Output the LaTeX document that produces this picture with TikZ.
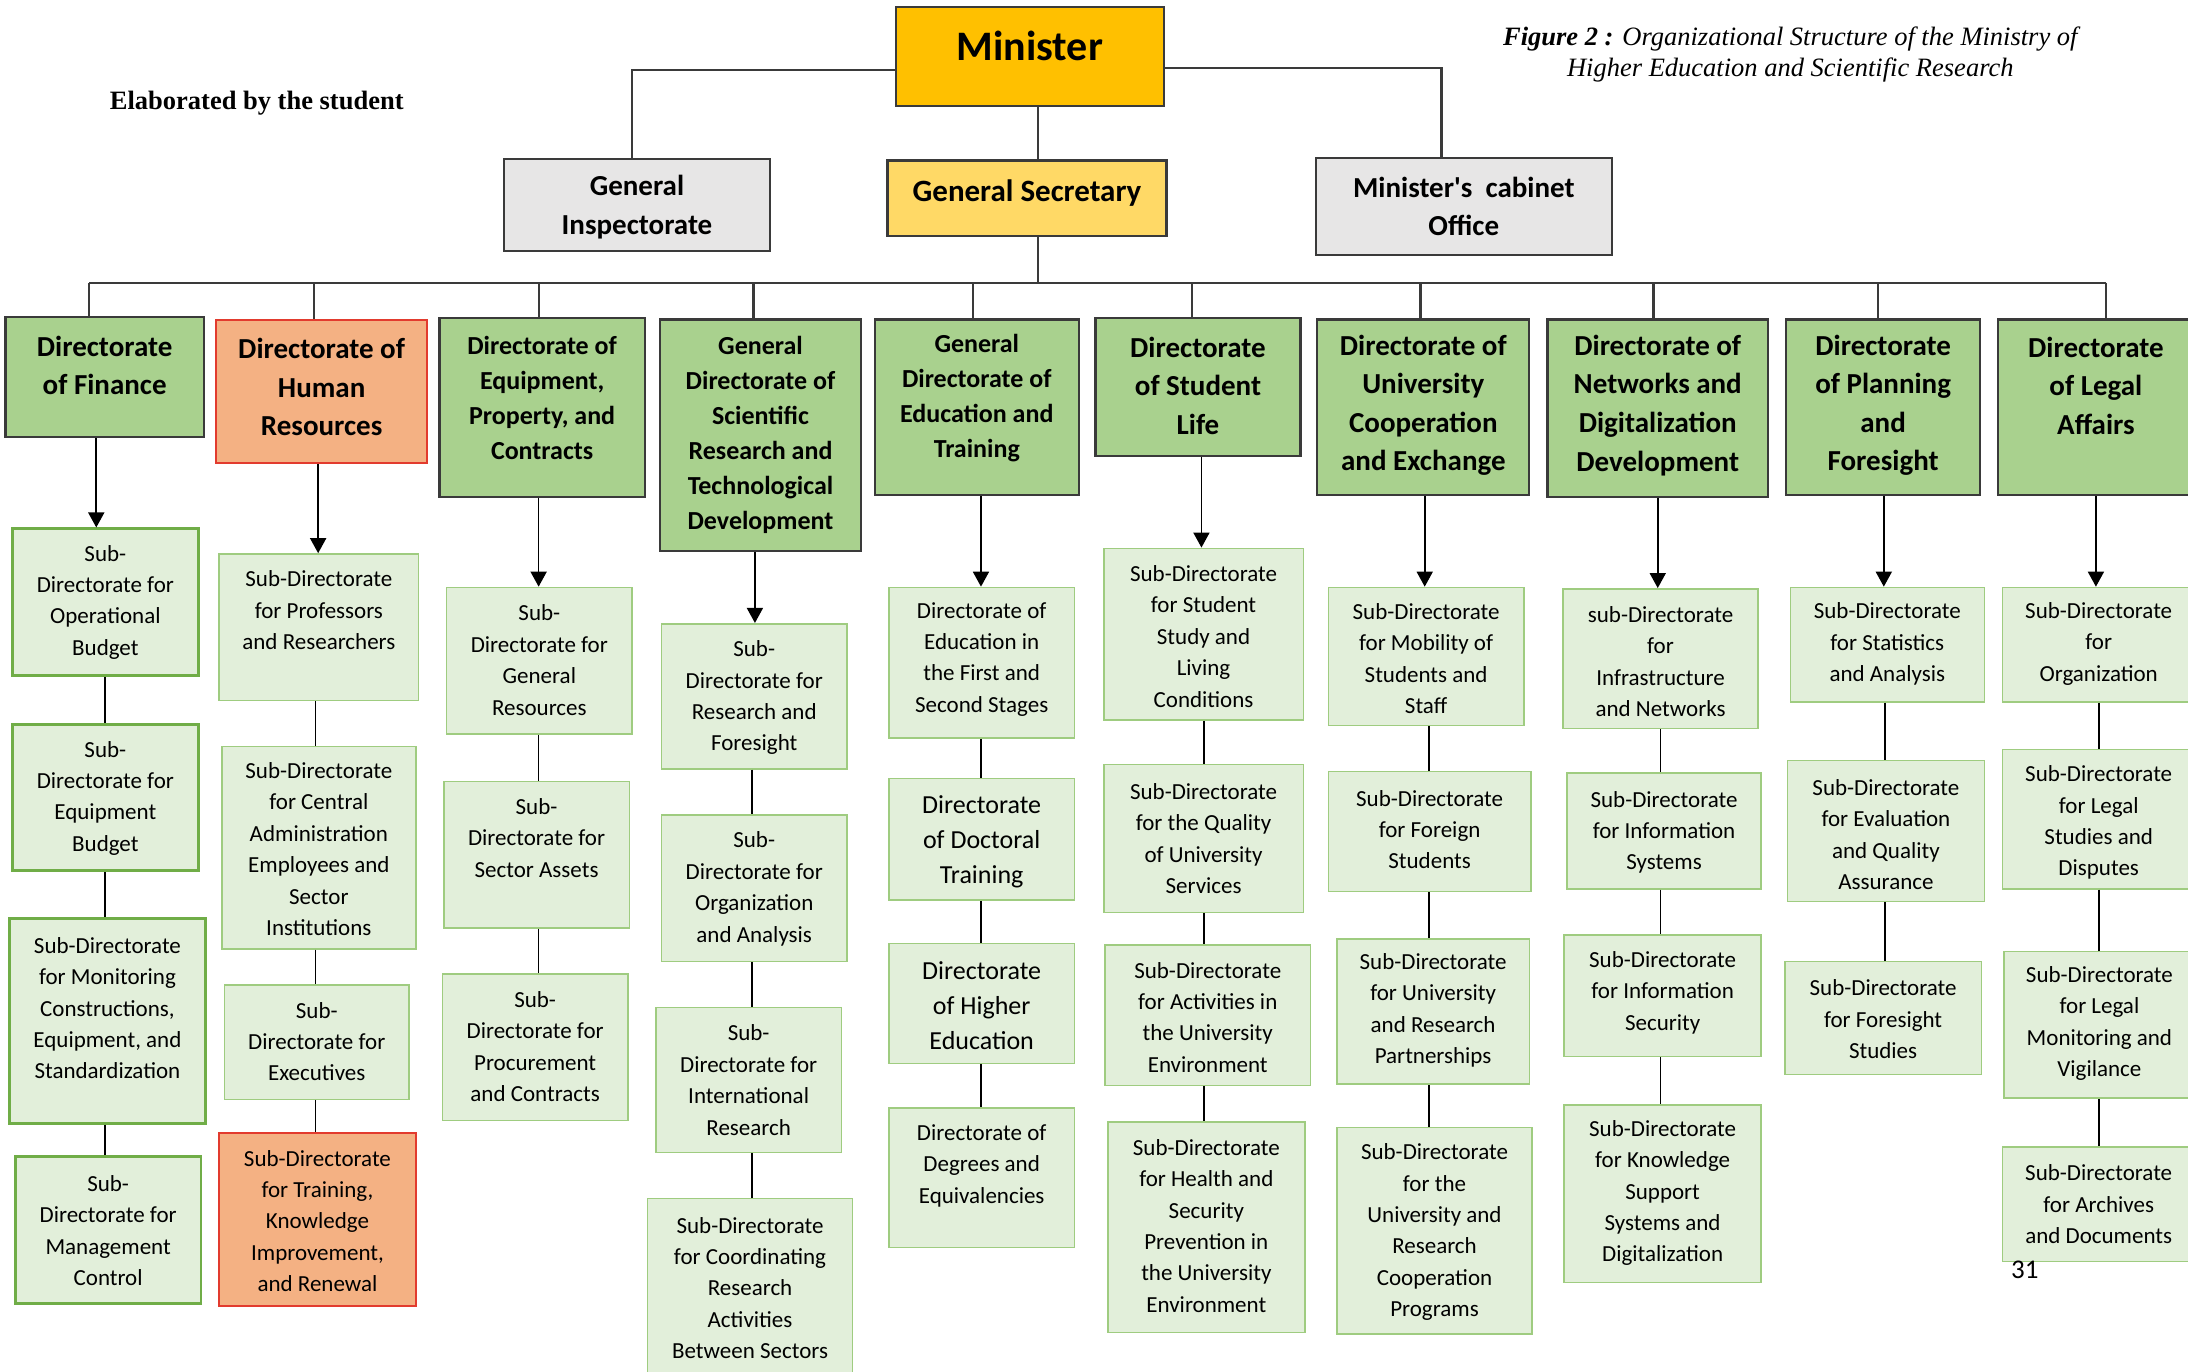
\documentclass[tikz,border=0pt]{standalone}
\usepackage{fontspec}
\setmainfont{Carlito}
\newfontfamily\cabfont{Carlito}
\newfontfamily\tnr{Liberation Serif}
\usetikzlibrary{arrows.meta,fit}
\definecolor{dirgreen}{HTML}{A9D18E}
\definecolor{subgreen}{HTML}{E2EFDA}
\definecolor{greenA}{HTML}{70AD47}
\definecolor{greenB}{HTML}{9FCC80}
\definecolor{hrsalmon}{HTML}{F4B183}
\definecolor{hrred}{HTML}{E23B2E}
\definecolor{grayfill}{HTML}{E7E6E6}
\definecolor{minfill}{HTML}{FFC000}
\definecolor{gsfill}{HTML}{FFD966}
\definecolor{darkline}{HTML}{3A3A3A}
\newcommand\bx[9]{\node[#2, inner sep=0pt, fit={(#3,#4) (#5,#6)}] (#1) {};
  \node[#7] (#1t) at ({(#3+#5)/2},#8) {#9};}
\tikzset{
  topbox/.style={draw=darkline, line width=2.2pt},
  dirbox/.style={draw=darkline, line width=2.2pt, fill=dirgreen},
  hrbox/.style={draw=hrred, line width=2pt, fill=hrsalmon},
  subA/.style={draw=greenA, line width=2.8pt, fill=subgreen},
  subB/.style={draw=greenB, line width=1.6pt, fill=subgreen},
  subR/.style={draw=hrred, line width=1.6pt, fill=hrsalmon},
  hdr/.style={font=\fontsize{29}{38.6}\selectfont\bfseries, align=center, inner sep=0pt},
  hdrs/.style={font=\fontsize{26}{35}\selectfont\bfseries, align=center, inner sep=0pt},
  subt/.style={font=\fontsize{23}{31.4}\selectfont, align=center, inner sep=0pt},
  subl/.style={font=\fontsize{26}{35}\selectfont, align=center, inner sep=0pt},
  topline/.style={draw=darkline, line width=2.2pt},
  link/.style={draw=black, line width=1.7pt},
  arr/.style={link, -{Triangle[width=16pt,length=15pt]}}
}
\begin{document}
\begin{tikzpicture}[x=1.3954pt,y=-1.3954pt]
\path[use as bounding box, fill=white] (0,0) rectangle (1568,983);

% top level
\bx{min}{topbox, fill=minfill}{642}{5}{834}{76}{font=\fontsize{42}{42}\selectfont\bfseries, inner sep=0pt}{33}{Minister}
\bx{gs}{topbox, fill=gsfill}{636}{115}{836}{169}{font=\fontsize{31}{31}\selectfont\bfseries, inner sep=0pt}{138}{General Secretary}
\bx{insp}{topbox, fill=grayfill}{361}{114}{552}{180}{hdr}{148.5}{General\\Inspectorate}
\bx{cab}{topbox, fill=grayfill}{943}{113}{1155}{183}{hdr}{148}{{\cabfont\bfseries Minister's~ cabinet}\\Office}

% directorates
\bx{d1}{dirbox}{4}{227}{146}{313}{hdr}{262}{Directorate\\of Finance}
\bx{d2}{hrbox}{155}{229}{306}{332}{hdr}{277.5}{Directorate of\\Human\\Resources}
\bx{d3}{dirbox}{315}{228}{462}{356}{hdrs}{285.5}{Directorate of\\Equipment,\\Property, and\\Contracts}
\bx{d4}{dirbox}{473}{229}{617}{395}{hdrs}{311.5}{General\\Directorate of\\Scientific\\Research and\\Technological\\Development}
\bx{d5}{dirbox}{627}{229}{773}{355}{hdrs}{285.5}{General\\Directorate of\\Education and\\Training}
\bx{d6}{dirbox}{785}{228}{932}{327}{hdr}{276.5}{Directorate\\of Student\\Life}
\bx{d7}{dirbox}{944}{229}{1096}{355}{hdr}{290.5}{Directorate of\\University\\Cooperation\\and Exchange}
\bx{d8}{dirbox}{1109}{229}{1267}{356}{hdr}{290.5}{Directorate of\\Networks and\\Digitalization\\Development}
\bx{d9}{dirbox}{1280}{229}{1419}{355}{hdr}{290.5}{Directorate\\of Planning\\and\\Foresight}
\bx{d10}{dirbox}{1432}{229}{1572}{355}{hdr}{276.5}{Directorate\\of Legal\\Affairs}

% column 1
\bx{s1a}{subA}{9}{379}{142}{484}{subt}{431.5}{Sub-\\Directorate for\\Operational\\Budget}
\bx{s1b}{subA}{9}{519}{142}{624}{subt}{572}{Sub-\\Directorate for\\Equipment\\Budget}
\bx{s1c}{subA}{7}{658}{147}{805}{subt}{722.5}{Sub-Directorate\\for Monitoring\\Constructions,\\Equipment, and\\Standardization}
\bx{s1d}{subA}{11}{829}{144}{934}{subt}{882}{Sub-\\Directorate for\\Management\\Control}
% column 2
\bx{s2a}{subB}{157}{397}{300}{502}{subt}{437.5}{Sub-Directorate\\for Professors\\and Researchers}
\bx{s2b}{subB}{159}{535}{298}{680}{subt}{608.5}{Sub-Directorate\\for Central\\Administration\\Employees and\\Sector\\Institutions}
\bx{s2c}{subB}{161}{706}{293}{788}{subt}{746.5}{Sub-\\Directorate for\\Executives}
\bx{s2d}{subR}{157}{812}{298}{936}{subt}{875}{Sub-Directorate\\for Training,\\Knowledge\\Improvement,\\and Renewal}
% column 3
\bx{s3a}{subB}{320}{421}{453}{526}{subt}{473}{Sub-\\Directorate for\\General\\Resources}
\bx{s3b}{subB}{318}{560}{451}{665}{subt}{600.5}{Sub-\\Directorate for\\Sector Assets}
\bx{s3c}{subB}{317}{698}{450}{803}{subt}{750}{Sub-\\Directorate for\\Procurement\\and Contracts}
% column 4
\bx{s4a}{subB}{474}{447}{607}{551}{subt}{500}{Sub-\\Directorate for\\Research and\\Foresight}
\bx{s4b}{subB}{474}{584}{607}{689}{subt}{637}{Sub-\\Directorate for\\Organization\\and Analysis}
\bx{s4c}{subB}{470}{722}{603}{826}{subt}{774}{Sub-\\Directorate for\\International\\Research}
\bx{s4d}{subB}{464}{859}{611}{995}{subt}{923}{Sub-Directorate\\for Coordinating\\Research\\Activities\\Between Sectors}
% column 5
\bx{s5a}{subB}{637}{421}{770}{529}{subt}{472.5}{Directorate of\\Education in\\the First and\\Second Stages}
\bx{s5b}{subB}{637}{558}{770}{645}{subl}{603}{Directorate\\of Doctoral\\Training}
\bx{s5c}{subB}{637}{676}{770}{762}{subl}{721}{Directorate\\of Higher\\Education}
\bx{s5d}{subB}{637}{794}{770}{894}{subt}{835.5}{Directorate of\\Degrees and\\Equivalencies}
% column 6
\bx{s6a}{subB}{791}{393}{934}{516}{subt}{456}{Sub-Directorate\\for Student\\Study and\\Living\\Conditions}
\bx{s6b}{subB}{791}{548}{934}{654}{subt}{601}{Sub-Directorate\\for the Quality\\of University\\Services}
\bx{s6c}{subB}{792}{677}{939}{778}{subt}{729}{Sub-Directorate\\for Activities in\\the University\\Environment}
\bx{s6d}{subB}{794}{804}{935}{955}{subt}{878.5}{Sub-Directorate\\for Health and\\Security\\Prevention in\\the University\\Environment}
% column 7
\bx{s7a}{subB}{952}{421}{1092}{520}{subt}{472}{Sub-Directorate\\for Mobility of\\Students and\\Staff}
\bx{s7b}{subB}{952}{553}{1097}{639}{subt}{594.5}{Sub-Directorate\\for Foreign\\Students}
\bx{s7c}{subB}{958}{673}{1096}{777}{subt}{724}{Sub-Directorate\\for University\\and Research\\Partnerships}
\bx{s7d}{subB}{958}{808}{1098}{956}{subt}{883}{Sub-Directorate\\for the\\University and\\Research\\Cooperation\\Programs}
% column 8
\bx{s8a}{subB}{1120}{422}{1260}{522}{subt}{474}{sub-Directorate\\for\\Infrastructure\\and Networks}
\bx{s8b}{subB}{1123}{554}{1262}{637}{subt}{596.5}{Sub-Directorate\\for Information\\Systems}
\bx{s8c}{subB}{1121}{670}{1262}{757}{subt}{711.5}{Sub-Directorate\\for Information\\Security}
\bx{s8d}{subB}{1121}{792}{1262}{919}{subt}{855}{Sub-Directorate\\for Knowledge\\Support\\Systems and\\Digitalization}
% column 9
\bx{s9a}{subB}{1283}{421}{1422}{503}{subt}{461.5}{Sub-Directorate\\for Statistics\\and Analysis}
\bx{s9b}{subB}{1281}{545}{1422}{646}{subt}{598}{Sub-Directorate\\for Evaluation\\and Quality\\Assurance}
\bx{s9c}{subB}{1279}{689}{1420}{770}{subt}{730.5}{Sub-Directorate\\for Foresight\\Studies}
% column 10
\bx{s10a}{subB}{1435}{421}{1573}{503}{subt}{461.5}{Sub-Directorate\\for\\Organization}
\bx{s10b}{subB}{1435}{537}{1573}{637}{subt}{589.5}{Sub-Directorate\\for Legal\\Studies and\\Disputes}
\bx{s10c}{subB}{1436}{682}{1573}{787}{subt}{733.5}{Sub-Directorate\\for Legal\\Monitoring and\\Vigilance}
\bx{s10d}{subB}{1435}{822}{1573}{904}{subt}{863}{Sub-Directorate\\for Archives\\and Documents}

% top connectors
\coordinate (jL) at (453,50);
\coordinate (jR) at (1033,48.5);
\coordinate (busC) at (744,202.6);
\coordinate (busL) at (64,202.6);
\coordinate (busR) at (1509,202.6);
\draw[topline] (min.west |- jL) -- (jL) -- (jL |- insp.north);
\draw[topline] (min.east |- jR) -- (jR) -- (jR |- cab.north);
\draw[topline] (busC |- min.south) -- (busC |- gs.north);
\draw[topline] (busC |- gs.south) -- (busC);
\draw[topline] (busL) -- (busR);
\foreach \n/\x in {d1/64,d2/225,d3/386,d4/540,d5/697,d6/854,d7/1018,d8/1185,d9/1346,d10/1509}{
  \coordinate (t\n) at (\x,202.6);
  \draw[topline] (t\n) -- (t\n |- \n.north);
}

% column connectors
\foreach \i/\ax/\cx in {1/69/75,2/228/226,3/386/386,4/541/539,5/703/703,6/861/863,7/1021/1024,8/1188/1190,9/1350/1351,10/1502/1504}{
  \coordinate (ca\i) at (\ax,0);
  \coordinate (cc\i) at (\cx,0);
  \draw[arr] (ca\i |- d\i.south) -- (ca\i |- s\i a.north);
}
\foreach \a/\b/\c in {s1a/s1b/1,s1b/s1c/1,s1c/s1d/1,
  s2a/s2b/2,s2b/s2c/2,s2c/s2d/2,
  s3a/s3b/3,s3b/s3c/3,
  s4a/s4b/4,s4b/s4c/4,s4c/s4d/4,
  s5a/s5b/5,s5b/s5c/5,s5c/s5d/5,
  s6a/s6b/6,s6b/s6c/6,s6c/s6d/6,
  s7a/s7b/7,s7b/s7c/7,s7c/s7d/7,
  s8a/s8b/8,s8b/s8c/8,s8c/s8d/8,
  s9a/s9b/9,s9b/s9c/9,
  s10a/s10b/10,s10b/s10c/10,s10c/s10d/10}{
  \draw[link] (cc\c |- \a.south) -- (cc\c |- \b.north);
}

% texts
\node[font=\tnr\bfseries\fontsize{26.5}{30}\selectfont, inner sep=0pt] (elab) at (184,74) {Elaborated by the student};
\node[font=\tnr\itshape\fontsize{26.5}{30.7}\selectfont, align=center, inner sep=0pt] (cap) at (1283,39)
  {{\bfseries Figure 2 :} Organizational Structure of the Ministry of\\Higher Education and Scientific Research};
\node[font=\fontsize{27}{27}\selectfont, inner sep=0pt] (pg) at (1451,910) {31};
\end{tikzpicture}
\end{document}
